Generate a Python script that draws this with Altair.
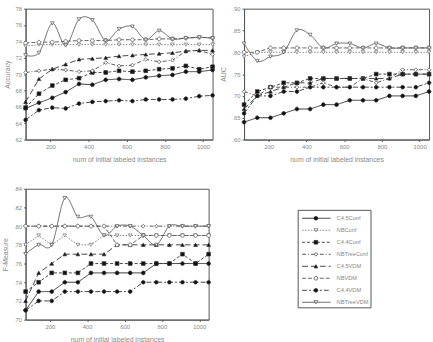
import altair as alt
import pandas as pd

# Number of initially labeled instances (x positions shared by all panels)
instances = [70, 140, 210, 280, 350, 420, 490, 560, 630, 700, 770, 840, 910, 980, 1050]

methods = ["C4.5Conf", "NBConf", "C4.4Conf", "NBTreeConf",
           "C4.5VDM", "NBVDM", "C4.4VDM", "NBTreeVDM"]

accuracy = {
    "C4.5Conf":   [65.8, 66.5, 67.1, 67.8, 68.8, 68.7, 69.3, 69.4, 69.3, 69.6, 69.8, 69.9, 70.3, 70.3, 70.5],
    "NBConf":     [73.4, 73.6, 73.6, 73.6, 73.6, 73.6, 73.6, 73.6, 73.6, 73.6, 73.6, 73.6, 73.6, 73.6, 73.6],
    "C4.4Conf":   [65.9, 67.6, 68.6, 69.3, 69.5, 70.2, 70.2, 70.4, 70.3, 70.4, 70.6, 70.7, 71.0, 70.6, 70.9],
    "NBTreeConf": [70.2, 70.4, 70.6, 70.5, 70.3, 70.4, 71.4, 71.0, 71.1, 71.8, 71.5, 71.7, 72.8, 72.9, 72.4],
    "C4.5VDM":    [66.6, 69.4, 70.6, 71.2, 71.8, 71.9, 72.0, 72.2, 72.3, 72.4, 72.5, 72.6, 72.8, 72.9, 72.9],
    "NBVDM":      [73.8, 73.9, 73.9, 74.0, 74.1, 74.1, 74.1, 74.2, 74.2, 74.2, 74.3, 74.3, 74.4, 74.5, 74.4],
    "C4.4VDM":    [64.4, 65.6, 65.9, 65.8, 66.4, 66.6, 66.7, 66.8, 66.7, 66.9, 66.9, 66.9, 67.0, 67.3, 67.4],
    "NBTreeVDM":  [72.3, 72.6, 76.2, 73.5, 76.7, 76.6, 74.1, 75.5, 75.8, 74.2, 75.3, 74.3, 74.4, 74.5, 74.4],
}

auc = {
    "C4.5Conf":   [0.64, 0.65, 0.65, 0.66, 0.67, 0.67, 0.68, 0.68, 0.69, 0.69, 0.69, 0.70, 0.70, 0.70, 0.71],
    "NBConf":     [0.79, 0.80, 0.80, 0.80, 0.80, 0.80, 0.80, 0.80, 0.80, 0.80, 0.80, 0.80, 0.80, 0.80, 0.80],
    "C4.4Conf":   [0.68, 0.71, 0.72, 0.73, 0.73, 0.74, 0.74, 0.74, 0.74, 0.74, 0.75, 0.75, 0.75, 0.75, 0.75],
    "NBTreeConf": [0.71, 0.70, 0.72, 0.72, 0.72, 0.72, 0.73, 0.72, 0.72, 0.74, 0.73, 0.74, 0.76, 0.76, 0.76],
    "C4.5VDM":    [0.67, 0.70, 0.71, 0.72, 0.73, 0.73, 0.74, 0.74, 0.74, 0.74, 0.74, 0.74, 0.75, 0.75, 0.75],
    "NBVDM":      [0.80, 0.80, 0.81, 0.81, 0.81, 0.81, 0.81, 0.81, 0.81, 0.81, 0.81, 0.81, 0.81, 0.81, 0.81],
    "C4.4VDM":    [0.66, 0.70, 0.70, 0.71, 0.71, 0.72, 0.72, 0.72, 0.72, 0.72, 0.72, 0.72, 0.72, 0.72, 0.73],
    "NBTreeVDM":  [0.82, 0.78, 0.79, 0.80, 0.85, 0.84, 0.81, 0.82, 0.82, 0.81, 0.82, 0.81, 0.81, 0.81, 0.81],
}

f_measure = {
    "C4.5Conf":   [0.71, 0.73, 0.73, 0.74, 0.74, 0.75, 0.75, 0.75, 0.75, 0.75, 0.76, 0.76, 0.76, 0.76, 0.76],
    "NBConf":     [0.78, 0.79, 0.78, 0.79, 0.78, 0.78, 0.79, 0.79, 0.79, 0.79, 0.79, 0.79, 0.79, 0.79, 0.79],
    "C4.4Conf":   [0.73, 0.74, 0.75, 0.75, 0.75, 0.76, 0.76, 0.76, 0.76, 0.76, 0.76, 0.76, 0.77, 0.76, 0.77],
    "NBTreeConf": [0.80, 0.80, 0.80, 0.80, 0.80, 0.80, 0.80, 0.80, 0.80, 0.80, 0.80, 0.80, 0.80, 0.80, 0.80],
    "C4.5VDM":    [0.72, 0.75, 0.76, 0.77, 0.77, 0.77, 0.77, 0.78, 0.78, 0.78, 0.78, 0.78, 0.78, 0.78, 0.78],
    "NBVDM":      [0.80, 0.80, 0.80, 0.80, 0.80, 0.80, 0.80, 0.78, 0.78, 0.79, 0.79, 0.79, 0.79, 0.79, 0.79],
    "C4.4VDM":    [0.71, 0.72, 0.72, 0.73, 0.73, 0.73, 0.73, 0.73, 0.73, 0.74, 0.74, 0.74, 0.74, 0.74, 0.74],
    "NBTreeVDM":  [0.77, 0.78, 0.78, 0.83, 0.81, 0.81, 0.79, 0.80, 0.80, 0.79, 0.78, 0.80, 0.80, 0.80, 0.80],
}

x_ticks = [200, 400, 600, 800, 1000]
acc_ticks = [62, 64, 66, 68, 70, 72, 74, 76, 78]
auc_ticks = [0.60, 0.65, 0.70, 0.75, 0.80, 0.85, 0.90]
fm_ticks = [0.70, 0.72, 0.74, 0.76, 0.78, 0.80, 0.82, 0.84]

# Line / marker styling per method
dashes = [[1, 0], [1.5, 1.5], [3, 2], [4, 2, 1, 2], [6, 3], [4, 2], [5, 2, 2, 2], [1, 0]]
shapes = ["circle", "triangle-down", "square", "diamond",
          "triangle-up", "circle", "circle", "triangle-down"]
fills = ["#111", "white", "#111", "white", "#111", "white", "#111", "white"]
strokes = ["#222", "#777", "#333", "#444", "#333", "#555", "#333", "#555"]

INK = "#555"
LABEL = "#888"

dash_scale = alt.Scale(domain=methods, range=dashes)
shape_scale = alt.Scale(domain=methods, range=shapes)
fill_scale = alt.Scale(domain=methods, range=fills)
color_scale = alt.Scale(domain=methods, range=strokes)


def long_frame(values):
    rows = []
    for m in methods:
        for x, v in zip(instances, values[m]):
            rows.append({"instances": x, "value": v, "method": m})
    return pd.DataFrame(rows)


def panel(values, title, domain, ticks, label_expr, width, height):
    base = alt.Chart(long_frame(values)).encode(
        x=alt.X("instances:Q",
                scale=alt.Scale(domain=[70, 1050], nice=False, zero=False),
                axis=alt.Axis(values=x_ticks, format="d",
                              title="num of initial labeled instances")),
        y=alt.Y("value:Q",
                scale=alt.Scale(domain=domain, nice=False, zero=False),
                axis=alt.Axis(values=ticks, title=title, labelExpr=label_expr)),
        color=alt.Color("method:N", scale=color_scale, legend=None),
        strokeDash=alt.StrokeDash("method:N", scale=dash_scale, legend=None),
    )
    straight = base.transform_filter(alt.datum.method != "NBTreeVDM").mark_line(strokeWidth=0.9)
    curved = base.transform_filter(alt.datum.method == "NBTreeVDM").mark_line(
        strokeWidth=0.9, interpolate="cardinal", tension=0)
    points = base.mark_point(size=14, strokeWidth=0.8, opacity=1).encode(
        shape=alt.Shape("method:N", scale=shape_scale, legend=None),
        fill=alt.Fill("method:N", scale=fill_scale, legend=None),
        strokeDash=alt.value([1, 0]),
    )
    return alt.layer(straight, curved, points).properties(width=width, height=height)


acc_chart = panel(accuracy, "Accuracy", [62, 78], acc_ticks,
                  "format(datum.value, 'd')", 190, 133)
auc_chart = panel(auc, "AUC", [0.60, 0.90], auc_ticks,
                  "substring(format(datum.value, '.2f'), 1)", 188, 133)
fm_chart = panel(f_measure, "F-Measure", [0.70, 0.84], fm_ticks,
                 "substring(format(datum.value, '.2f'), 1)", 186, 133)

# Hand-built legend: a dashed sample line, a marker and the method name per row
legend_df = pd.DataFrame({"method": methods, "row": list(range(len(methods)))})
lx = alt.Scale(domain=[0, 74], nice=False, zero=False)
ly = alt.Scale(domain=[-2.46, 8.69], nice=False, zero=False, reverse=True)

leg_base = alt.Chart(legend_df).encode(
    y=alt.Y("row:Q", scale=ly, axis=None),
)
leg_lines = leg_base.mark_rule(strokeWidth=0.9).encode(
    x=alt.datum(4, scale=lx, axis=None),
    x2=alt.datum(33),
    color=alt.Color("method:N", scale=color_scale, legend=None),
    strokeDash=alt.StrokeDash("method:N", scale=dash_scale, legend=None),
)
leg_marks = leg_base.mark_point(size=14, strokeWidth=0.8, opacity=1).encode(
    x=alt.datum(18, scale=lx, axis=None),
    shape=alt.Shape("method:N", scale=shape_scale, legend=None),
    fill=alt.Fill("method:N", scale=fill_scale, legend=None),
    color=alt.Color("method:N", scale=color_scale, legend=None),
)
leg_text = leg_base.mark_text(align="left", baseline="middle", fontSize=5.8,
                              color=LABEL, font="Liberation Sans").encode(
    x=alt.datum(39, scale=lx, axis=None),
    text="method:N",
)
leg_box = alt.Chart(pd.DataFrame({"frame": [0]})).mark_rect(
    fill="white", stroke=INK, strokeWidth=1).encode(
    x=alt.datum(0, scale=lx, axis=None), x2=alt.datum(74),
    y=alt.datum(-0.66, scale=ly, axis=None), y2=alt.datum(7.46),
)
legend_chart = alt.layer(leg_box, leg_lines, leg_marks, leg_text).properties(
    width=74, height=136, view=alt.ViewBackground(stroke="transparent"))

top_row = alt.hconcat(acc_chart, auc_chart, spacing=3)
bottom_row = alt.hconcat(fm_chart, legend_chart, spacing=86)

chart = alt.vconcat(top_row, bottom_row, spacing=22).properties(
    padding={"left": 1, "top": 2, "right": 0, "bottom": 0},
    background="white",
).configure_view(
    stroke=INK, strokeWidth=1,
).configure_axis(
    grid=False,
    domainColor=INK,
    tickColor=INK,
    tickSize=2,
    labelFont="Liberation Sans",
    labelFontSize=6,
    labelColor=LABEL,
    labelPadding=2,
    titleFont="Liberation Sans",
    titleFontSize=7,
    titleFontWeight="normal",
    titleColor=LABEL,
    titlePadding=5,
).configure_axisX(
    titlePadding=6,
)

chart.save("out.html", embed_options={"renderer": "svg", "actions": False})
